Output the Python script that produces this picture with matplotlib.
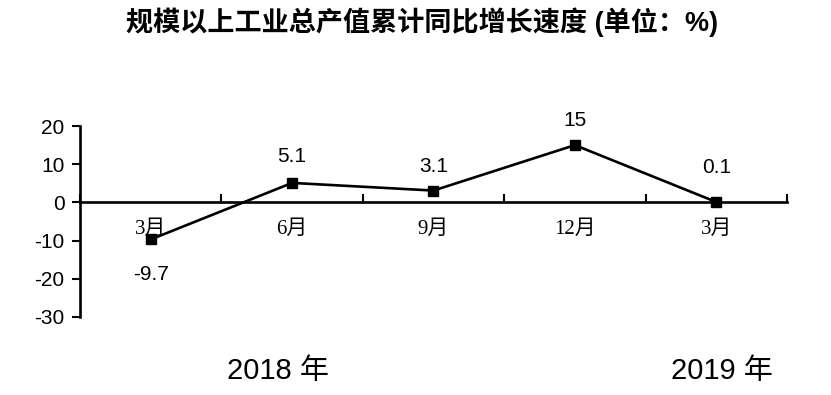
import matplotlib
matplotlib.use('Agg')
import matplotlib.pyplot as plt
import numpy as np

plt.rcParams['font.family'] = ['Liberation Sans', 'Noto Sans CJK SC']
plt.rcParams['axes.unicode_minus'] = False

# data
months = ['3月', '6月', '9月', '12月', '3月']
growth = [-9.7, 5.1, 3.1, 15, 0.1]
value_labels = ['-9.7', '5.1', '3.1', '15', '0.1']
label_offsets = [-25, 19, 17, 18, 25]   # vertical offset of value labels, points
years = ['2018 年', '2019 年']

fig = plt.figure(figsize=(8.31, 3.95), dpi=100)
ax = fig.add_axes([0.0963, 0.1975, 0.8507, 0.4835])

x = np.arange(len(growth))
ax.plot(x, growth, color='black', lw=1.9, marker='s', markersize=7, zorder=3)

for xi, yi, txt, off in zip(x, growth, value_labels, label_offsets):
    ax.annotate(txt, (xi, yi), xytext=(0, off), textcoords='offset points',
                ha='center', va='center', fontsize=15)

# category labels just under the zero line
for xi, m in zip(x, months):
    ax.text(xi, -7.0, m, ha='center', va='center', fontsize=15,
            family=['Liberation Serif', 'Noto Sans CJK SC'])

ax.set_xlim(-0.5, len(growth) - 0.5)
ax.set_ylim(-30, 20)
ax.set_yticks(np.arange(-30, 21, 10))
ax.tick_params(axis='y', direction='out', length=6, width=1.5, labelsize=15, pad=5)

ax.set_xticks(np.arange(-0.5, len(growth), 1.0))
ax.set_xticklabels([])
ax.tick_params(axis='x', direction='in', length=6, width=1.5)

ax.spines['top'].set_visible(False)
ax.spines['right'].set_visible(False)
ax.spines['bottom'].set_position(('data', 0))
ax.spines['bottom'].set_linewidth(1.9)
ax.spines['left'].set_linewidth(1.9)

fig.text(0.508, 0.944, '规模以上工业总产值累计同比增长速度 (单位：%)', ha='center', va='center',
         fontsize=19.5, fontweight='bold')
fig.text(0.334, 0.061, years[0], ha='center', va='center', fontsize=21)
fig.text(0.869, 0.061, years[1], ha='center', va='center', fontsize=21)

fig.savefig('out.png', dpi=100)
